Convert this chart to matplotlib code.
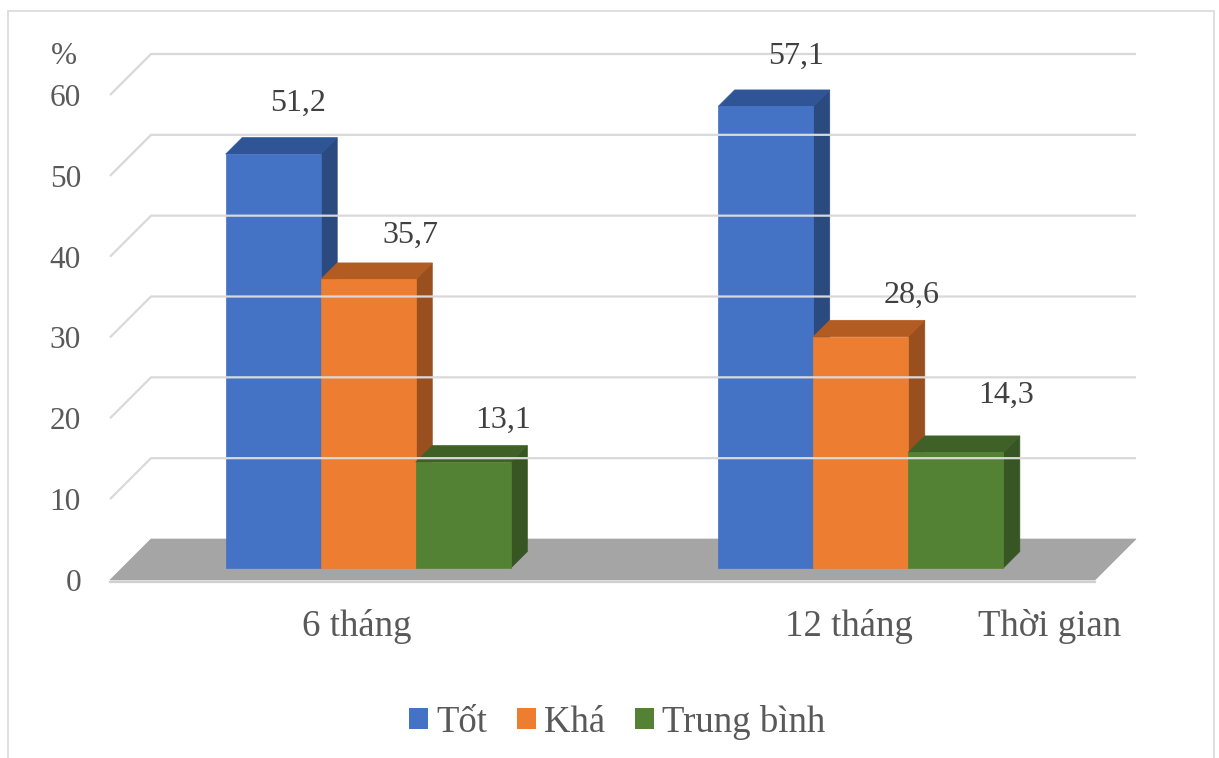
import matplotlib
matplotlib.use("Agg")
import matplotlib.pyplot as plt
from matplotlib.patches import Polygon, Rectangle, Patch

plt.rcParams['font.family'] = ['Liberation Serif', 'DejaVu Serif']

# số liệu
categories = ['6 tháng', '12 tháng']
series = ['Tốt', 'Khá', 'Trung bình']
tot = [51.2, 57.1]
kha = [35.7, 28.6]
trung_binh = [13.1, 14.3]
values = [tot, kha, trung_binh]
yticks = [0, 10, 20, 30, 40, 50, 60]

# màu mặt trước / mặt trên / mặt bên của từng cột
front_colors = ['#4472c4', '#ed7d31', '#548235']
top_colors = ['#2f5597', '#b35c22', '#3f6128']
side_colors = ['#2a4a80', '#9a4f1e', '#375623']

# dịch chữ số liệu (pixel) so với đỉnh cột
label_dx = [[25, 42, 40], [30, 51, 50]]
label_gap = [[43, 37, 34], [43, 34, 50]]

text_color = '#595959'
grid_color = '#d9d9d9'
bar_w = 0.193
floor_depth = 41      # chiều sâu nền (px)
bar_front = 12        # mặt trước cột nằm lùi vào (px)
bar_back = 28.5

fig = plt.figure(figsize=(12.19, 7.58), dpi=100)
ax = fig.add_axes([110 / 1219, 178 / 758, 985 / 1219, 485 / 758])
ax.set_xlim(-0.5, 1.5)
ax.set_ylim(0, 60)
ax.axis('off')


def shift(px):
    # đổi độ lùi theo chiều sâu (px) ra đơn vị dữ liệu
    return px / ax.bbox.width * 2.0, px / ax.bbox.height * 60.0


def face(pts, color):
    ax.add_patch(Polygon(pts, closed=True, facecolor=color, edgecolor=color,
                         linewidth=0.5, clip_on=False))


x0, x1 = ax.get_xlim()
dx, dy = shift(floor_depth)

# lưới trên tường
for v in yticks[1:]:
    ax.plot([x0, x0 + dx, x1 + dx], [v, v + dy, v + dy], color=grid_color,
            lw=1.6, clip_on=False, solid_capstyle='butt')

# nền
face([(x0, 0), (x1, 0), (x1 + dx, dy), (x0 + dx, dy)], '#a5a5a5')
ex, ey = shift(2)
ax.plot([x0, x1], [-ey, -ey], color='#d0d0d0', lw=1.6, clip_on=False)

# cột 3D
fx, fy = shift(bar_front)
bx, by = shift(bar_back)
for g in range(len(categories)):
    for s in range(len(series)):
        v = values[s][g]
        xl = g + (s - 1.5) * bar_w
        xr = xl + bar_w
        face([(xr + fx, fy), (xr + bx, by), (xr + bx, v + by), (xr + fx, v + fy)],
             side_colors[s])
        face([(xl + fx, v + fy), (xr + fx, v + fy), (xr + bx, v + by), (xl + bx, v + by)],
             top_colors[s])
        face([(xl + fx, fy), (xr + fx, fy), (xr + fx, v + fy), (xl + fx, v + fy)],
             front_colors[s])
        ax.annotate(f'{v:.1f}'.replace('.', ','), xy=(xl + bar_w / 2, v),
                    xytext=(bar_front + label_dx[g][s], bar_front + label_gap[g][s]),
                    textcoords='offset pixels', ha='center', va='baseline',
                    fontsize=23, color='#404040', annotation_clip=False)

# nhãn trục tung
for v in yticks:
    ax.annotate(str(v), xy=(x0, v), xytext=(-29, -11), textcoords='offset pixels',
                ha='right', va='baseline', fontsize=22.5, color=text_color,
                annotation_clip=False)
ax.annotate('%', xy=(x0, 60), xytext=(-46, 31), textcoords='offset pixels',
            ha='center', va='baseline', fontsize=22.5, color=text_color,
            annotation_clip=False)

# nhãn trục hoành
for g, name in enumerate(categories):
    ax.annotate(name, xy=(g, 0), xytext=(0, -56), textcoords='offset pixels',
                ha='center', va='baseline', fontsize=26.5, color=text_color,
                annotation_clip=False)
ax.annotate('Thời gian', xy=(x1, 0), xytext=(-45, -56), textcoords='offset pixels',
            ha='center', va='baseline', fontsize=26.5, color=text_color,
            annotation_clip=False)

handles = [Patch(facecolor=c, edgecolor='none') for c in front_colors]
fig.legend(handles, series, loc='center', bbox_to_anchor=(617 / 1219, 1 - 722 / 758),
           ncol=3, frameon=False, fontsize=26.5, labelcolor=text_color,
           handlelength=0.52, handleheight=0.52, handletextpad=0.22,
           columnspacing=0.8, borderaxespad=0)

# khung viền
fig.add_artist(Rectangle((8 / 1219, -0.05), (1214 - 8) / 1219, 1 - 11 / 758 + 0.05,
                         transform=fig.transFigure, fill=False,
                         edgecolor=grid_color, lw=1.2))

fig.savefig('out.png', dpi=100)
